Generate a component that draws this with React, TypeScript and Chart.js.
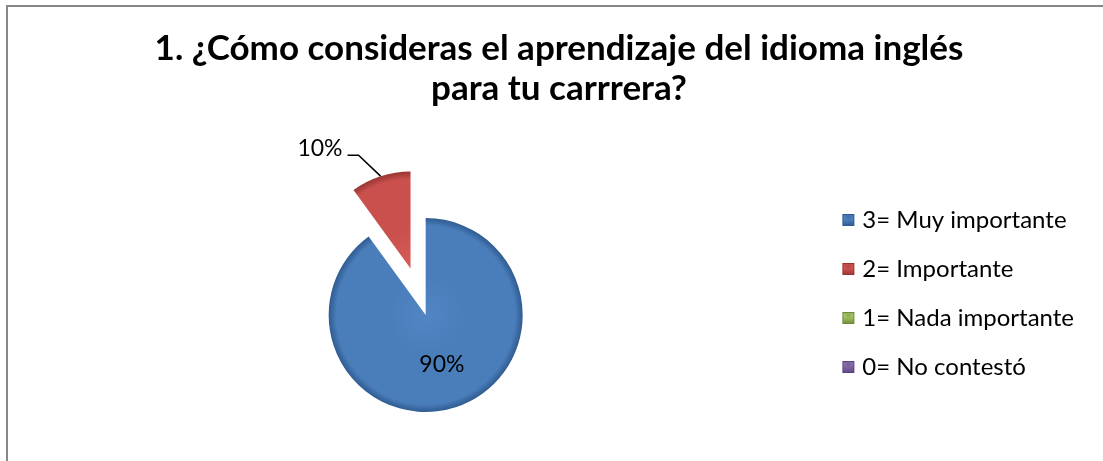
import React, { useEffect, useRef } from 'react';
import { Chart, registerables } from 'chart.js';

Chart.register(...registerables);

// ---------- data ----------
const categories = ['3= Muy importante', '2= Importante', '1= Nada importante', '0= No contestó'];
const percentages = [90, 10, 0, 0];
const titleLines = ['1. ¿Cómo consideras el aprendizaje del idioma inglés', 'para tu carrrera?'];

// ---------- style ----------
const baseColors = ['#4A7EBB', '#C9504C', '#9BBB59', '#8064A2'];
const lightColors = ['#5285C3', '#D65C58', '#B4D078', '#9B82BE'];
const darkColors = ['#2F5B90', '#973532', '#6E8A3A', '#5B4580'];
const explodeOffsets = [0, 196, 0, 0];

const W = 1103;
const H = 461;
const FONT = 'Lato';
const PIE_CX = 426;
const PIE_CY = 315;
const PIE_R = 97;
const TITLE_CX = 559;
const TITLE_Y1 = 49;
const TITLE_LH = 40;
const TITLE_SIZE = 35;
const LEG_SIZE = 24;
const LEG_PITCH = 49;
const LEG_Y1 = 220;
const LEG_TEXT_X = 863;
const LEG_SQ_LEFT = 843;
const LEG_SQ = 12;
const LABEL_SIZE = 23;

function makeMarker(i: number, centerX: number): HTMLCanvasElement {
  const iw = 80;
  const c = document.createElement('canvas');
  c.width = iw;
  c.height = LEG_SQ;
  const g = c.getContext('2d')!;
  const x0 = LEG_SQ_LEFT - (centerX - iw / 2);
  const gr = g.createLinearGradient(0, 0, 0, LEG_SQ);
  gr.addColorStop(0, lightColors[i]);
  gr.addColorStop(0.5, baseColors[i]);
  gr.addColorStop(1, darkColors[i]);
  g.fillStyle = gr;
  g.fillRect(x0, 0, LEG_SQ, LEG_SQ);
  g.fillStyle = darkColors[i];
  g.globalAlpha = 0.35;
  g.beginPath();
  g.moveTo(x0 + 1, 1);
  g.lineTo(x0 + LEG_SQ - 1, 1);
  g.lineTo(x0 + LEG_SQ / 2, LEG_SQ / 2);
  g.closePath();
  g.fill();
  g.globalAlpha = 1;
  g.strokeStyle = darkColors[i];
  g.lineWidth = 1;
  g.strokeRect(x0 + 0.5, 0.5, LEG_SQ - 1, LEG_SQ - 1);
  return c;
}

const explodeFix = {
  id: 'explodeFix',
  beforeDatasetDraw(chart: any, args: any) {
    const store: any[] = [];
    args.meta.data.forEach((arc: any) => {
      const off = ((arc.options && arc.options.offset) || 0) / 4;
      const circ = arc.endAngle - arc.startAngle;
      if (!off || circ <= 0) return;
      const ro = off * (1 - Math.sin(Math.min(Math.PI, circ)));
      const R = arc.outerRadius;
      const da = ro / (2 * Math.PI * R);
      store.push([arc, arc.outerRadius, arc.startAngle, arc.endAngle]);
      arc.outerRadius = R - ro;
      arc.startAngle -= da;
      arc.endAngle += da;
    });
    chart.$explodeStore = store;
  },
  afterDatasetDraw(chart: any) {
    (chart.$explodeStore || []).forEach((s: any[]) => {
      const arc = s[0];
      arc.outerRadius = s[1];
      arc.startAngle = s[2];
      arc.endAngle = s[3];
    });
    chart.$explodeStore = [];
  },
};

const pieLabels = {
  id: 'pieLabels',
  afterDatasetsDraw(chart: any) {
    const ctx = chart.ctx;
    const meta = chart.getDatasetMeta(0);
    ctx.save();
    ctx.font = `normal ${LABEL_SIZE}px ${FONT}`;
    ctx.fillStyle = '#000';
    ctx.strokeStyle = '#000';
    ctx.textBaseline = 'middle';
    meta.data.forEach((arc: any, i: number) => {
      const v = percentages[i];
      if (!v) return;
      const { x, y, startAngle, endAngle, outerRadius } = arc.getProps(
        ['x', 'y', 'startAngle', 'endAngle', 'outerRadius'],
        true
      );
      const mid = (startAngle + endAngle) / 2;
      const off = ((arc.options && arc.options.offset) || 0) / 4;
      const ax = x + Math.cos(mid) * off;
      const ay = y + Math.sin(mid) * off;
      const text = `${v}%`;
      if (!off) {
        const d = outerRadius * 0.54;
        ctx.textAlign = 'center';
        ctx.fillText(text, ax + Math.cos(mid) * d, ay + Math.sin(mid) * d);
      } else {
        const p0x = ax + Math.cos(mid) * outerRadius;
        const p0y = ay + Math.sin(mid) * outerRadius;
        const p1x = p0x - 22;
        const p1y = p0y - 21;
        const p2x = p1x - 11;
        ctx.lineWidth = 1.5;
        ctx.beginPath();
        ctx.moveTo(p0x, p0y);
        ctx.lineTo(p1x, p1y);
        ctx.lineTo(p2x, p1y);
        ctx.stroke();
        ctx.textAlign = 'right';
        ctx.fillText(text, p2x - 5, p1y - 7);
      }
    });
    ctx.restore();
  },
};

export default function App() {
  const ref = useRef<HTMLCanvasElement | null>(null);

  useEffect(() => {
    const canvas = ref.current;
    if (!canvas) return;

    const pad = LEG_PITCH - LEG_SIZE;
    const areaTop = LEG_Y1 - LEG_SIZE / 2 - pad;
    const areaBottom = 2 * PIE_CY - areaTop;
    const titlePadTop = TITLE_Y1 - TITLE_LH / 2;
    const titlePadBottom = areaTop - titlePadTop - TITLE_LH * titleLines.length;

    const m = document.createElement('canvas').getContext('2d')!;
    m.font = `normal ${LEG_SIZE}px ${FONT}`;
    const textMax = Math.max(...categories.map((c) => m.measureText(c).width));
    const legW = 2 * (TITLE_CX - PIE_CX);
    let bw = Math.round((legW - pad - LEG_SIZE / 2 - 10 - textMax) / 2) * 2;
    if (bw < 2) bw = 2;
    const legLeft = LEG_TEXT_X - pad - LEG_SIZE / 2 - bw;
    const padL = 2 * PIE_CX - legLeft;
    const padR = W - (2 * TITLE_CX - padL);
    const markerCX = legLeft + pad + bw / 2;
    const markers = categories.map((_, i) => makeMarker(i, markerCX));

    const sliceFill = (c: any) => {
      const i = c.dataIndex ?? 0;
      const area = c.chart.chartArea;
      if (!area) return baseColors[i];
      const cx = (area.left + area.right) / 2;
      const cy = (area.top + area.bottom) / 2;
      const g = c.chart.ctx.createRadialGradient(cx, cy, 0, cx, cy, PIE_R);
      g.addColorStop(0, lightColors[i]);
      g.addColorStop(0.4, baseColors[i]);
      g.addColorStop(0.92, baseColors[i]);
      g.addColorStop(1, darkColors[i]);
      return g;
    };

    const chart = new Chart(canvas, {
      type: 'pie',
      data: {
        labels: categories,
        datasets: [
          {
            data: percentages,
            backgroundColor: sliceFill,
            borderWidth: 0,
            offset: explodeOffsets,
            hoverOffset: 0,
            radius: PIE_R,
          } as any,
        ],
      },
      options: {
        responsive: false,
        animation: false,
        layout: { padding: { left: padL, right: padR, top: 0, bottom: H - areaBottom } },
        plugins: {
          title: {
            display: true,
            text: titleLines,
            color: '#000',
            font: { family: FONT, size: TITLE_SIZE, weight: 'bold', lineHeight: TITLE_LH / TITLE_SIZE },
            padding: { top: titlePadTop, bottom: titlePadBottom },
          },
          legend: {
            position: 'right',
            align: 'start',
            fullSize: false,
            labels: {
              usePointStyle: true,
              pointStyleWidth: bw,
              padding: pad,
              color: '#000',
              font: { family: FONT, size: LEG_SIZE },
              generateLabels: () =>
                categories.map((t, i) => ({
                  text: t,
                  fillStyle: baseColors[i],
                  strokeStyle: baseColors[i],
                  lineWidth: 0,
                  pointStyle: markers[i],
                  hidden: false,
                  index: i,
                  fontColor: '#000',
                })),
            },
          },
          tooltip: { enabled: false },
        },
      } as any,
      plugins: [explodeFix, pieLabels],
    });

    return () => chart.destroy();
  }, []);

  return (
    <div
      style={{
        position: 'fixed',
        left: 0,
        top: 0,
        width: W,
        height: H,
        overflow: 'hidden',
        background: '#fff',
      }}
    >
      <div
        style={{
          position: 'absolute',
          left: 6,
          top: 5,
          width: 1400,
          height: 800,
          borderLeft: '2px solid #878787',
          borderTop: '2px solid #878787',
        }}
      />
      <canvas
        ref={ref}
        width={W}
        height={H}
        style={{ position: 'absolute', left: 0, top: 0, width: W, height: H }}
      />
    </div>
  );
}
